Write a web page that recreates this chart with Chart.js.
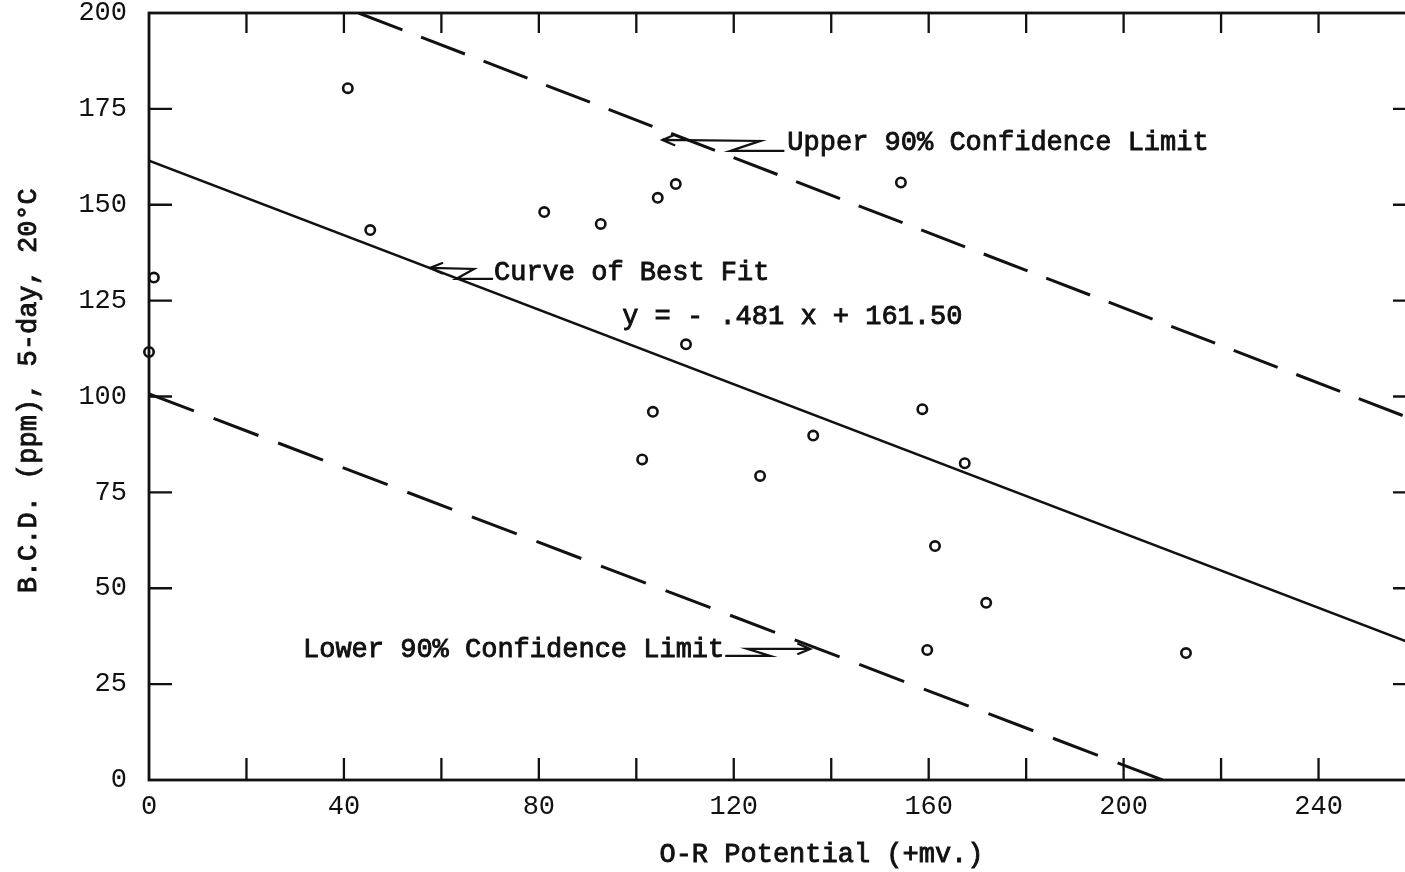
<!DOCTYPE html>
<html>
<head>
<meta charset="utf-8">
<script src="https://cdn.jsdelivr.net/npm/chart.js@4.4.1/dist/chart.umd.min.js"></script>
<style>
  html, body { margin: 0; padding: 0; background: #fff; overflow: hidden; }
  canvas { display: block; }
</style>
</head>
<body>
<canvas id="c" width="1430" height="872"></canvas>
<script>
// ---- data ----
const obsX = [1, 0, 40.8, 45.4, 81.1, 92.7, 104.4, 108.1, 110.2, 103.4, 101.2, 125.4, 136.3, 154.3, 158.7, 167.4, 161.3, 171.8, 159.7, 212.8];
const obsY = [131, 111.6, 180.4, 143.4, 148.1, 145.0, 151.8, 155.4, 113.6, 96.0, 83.6, 79.3, 89.8, 155.8, 96.7, 82.6, 61.0, 46.2, 33.9, 33.1];

const fitX = [0, 260];
const fitY = [161.5, 35.2];
const upperX = [43, 260];
const upperY = [200, 93.7];
const lowerX = [0, 208];
const lowerY = [100.7, 0];

const xTickLabelValues = [0, 40, 80, 120, 160, 200, 240];
const yTickValues = [0, 25, 50, 75, 100, 125, 150, 175, 200];

const xTitle = 'O-R Potential (+mv.)';
const yTitle = 'B.C.D. (ppm), 5-day, 20°C';
const upperLabel = 'Upper 90% Confidence Limit';
const fitLabel = 'Curve of Best Fit';
const eqLabel = 'y = - .481 x + 161.50';
const lowerLabel = 'Lower 90% Confidence Limit';

// ---- build ----
const INK = '#111';
const MONO = '"Liberation Mono", "Courier New", monospace';
const TYPE_FONT = '27px ' + MONO;
const toPts = (xs, ys) => xs.map((v, i) => ({ x: v, y: ys[i] }));

// annotation anchors in data units; arrow offsets in px relative to the anchor
const notes = [
  { text: upperLabel, x: 131.0, y: 164.3, from: 'start',
    arrow: [[-3, 1], [-57, 1], [-27, -9], [-125, -10]] },
  { text: fitLabel, x: 70.8, y: 130.4, from: 'start',
    arrow: [[-1, -1], [-38, -1], [-20, -11], [-64, -12]] },
  { text: eqLabel, x: 97.1, y: 118.9 },
  { text: lowerLabel, x: 31.6, y: 32.1, from: 'end',
    arrow: [[1, -1], [46, -1], [23, -8], [86, -8]] }
];

// typewriter-like medium weight text
function typeText(ctx, s, x, y) {
  ctx.fillText(s, x, y);
  ctx.lineWidth = 0.9;
  ctx.strokeText(s, x, y);
}

const framePlugin = {
  id: 'frame',
  beforeDatasetsDraw(chart) {
    const { ctx, chartArea: a, scales: { x, y } } = chart;
    ctx.save();
    ctx.strokeStyle = INK;
    ctx.lineWidth = 2.8;
    ctx.strokeRect(a.left, a.top, a.right - a.left, a.bottom - a.top);
    ctx.lineWidth = 2.3;
    ctx.beginPath();
    x.ticks.forEach(t => {
      const px = x.getPixelForValue(t.value);
      if (px <= a.left + 1 || px >= a.right - 1) return;
      ctx.moveTo(px, a.bottom); ctx.lineTo(px, a.bottom - 22);
      ctx.moveTo(px, a.top); ctx.lineTo(px, a.top + 20);
    });
    y.ticks.forEach(t => {
      const py = y.getPixelForValue(t.value);
      if (py <= a.top + 1 || py >= a.bottom - 1) return;
      ctx.moveTo(a.left, py); ctx.lineTo(a.left + 23, py);
      ctx.moveTo(a.right, py); ctx.lineTo(a.right - 23, py);
    });
    ctx.stroke();
    ctx.restore();
  },
  afterDatasetsDraw(chart) {
    const { ctx, chartArea: a, scales: { x, y } } = chart;
    ctx.save();
    ctx.fillStyle = INK;
    ctx.strokeStyle = INK;
    ctx.font = TYPE_FONT;
    ctx.textBaseline = 'alphabetic';
    ctx.textAlign = 'left';
    notes.forEach(n => {
      const px = x.getPixelForValue(n.x);
      const py = y.getPixelForValue(n.y);
      typeText(ctx, n.text, px, py);
      if (n.arrow) {
        const ox = n.from === 'end' ? px + ctx.measureText(n.text).width : px;
        const pts = n.arrow.map(p => [ox + p[0], py + p[1]]);
        ctx.lineWidth = 2.2;
        ctx.beginPath();
        pts.forEach((p, i) => i ? ctx.lineTo(p[0], p[1]) : ctx.moveTo(p[0], p[1]));
        const tip = pts[pts.length - 1], prev = pts[pts.length - 2];
        const ang = Math.atan2(tip[1] - prev[1], tip[0] - prev[0]);
        const L = 14;
        ctx.moveTo(tip[0] - L * Math.cos(ang - 0.4), tip[1] - L * Math.sin(ang - 0.4));
        ctx.lineTo(tip[0], tip[1]);
        ctx.lineTo(tip[0] - L * Math.cos(ang + 0.4), tip[1] - L * Math.sin(ang + 0.4));
        ctx.stroke();
      }
    });
    // axis titles
    ctx.textAlign = 'center';
    ctx.textBaseline = 'middle';
    typeText(ctx, xTitle, x.getPixelForValue(138), a.bottom + 75);
    ctx.save();
    ctx.translate(29, y.getPixelForValue(101.5));
    ctx.rotate(-Math.PI / 2);
    typeText(ctx, yTitle, 0, 0);
    ctx.restore();
    ctx.restore();
  }
};

new Chart(document.getElementById('c'), {
  type: 'scatter',
  data: {
    datasets: [
      {
        label: 'Observations',
        data: toPts(obsX, obsY),
        pointStyle: 'circle',
        pointRadius: 4.7,
        pointBorderWidth: 2.6,
        pointBorderColor: INK,
        pointBackgroundColor: 'rgba(255,255,255,0)',
        showLine: false,
        clip: false,
        order: 0
      },
      {
        label: 'Curve of Best Fit',
        data: toPts(fitX, fitY),
        showLine: true,
        borderColor: INK,
        borderWidth: 2.5,
        pointRadius: 0,
        order: 1
      },
      {
        label: 'Upper 90% Confidence Limit',
        data: toPts(upperX, upperY),
        showLine: true,
        borderColor: INK,
        borderWidth: 3,
        borderDash: [47, 20],
        pointRadius: 0,
        order: 2
      },
      {
        label: 'Lower 90% Confidence Limit',
        data: toPts(lowerX, lowerY),
        showLine: true,
        borderColor: INK,
        borderWidth: 3,
        borderDash: [48, 21.1],
        pointRadius: 0,
        order: 3
      }
    ]
  },
  options: {
    responsive: false,
    animation: false,
    events: [],
    layout: { padding: { top: 13, right: 14, left: 0, bottom: 0 } },
    plugins: { legend: { display: false }, tooltip: { enabled: false } },
    scales: {
      x: {
        type: 'linear',
        min: 0, max: 260,
        grid: { display: false, drawTicks: false },
        border: { display: false },
        ticks: {
          stepSize: 20,
          autoSkip: false,
          maxRotation: 0,
          padding: 13,
          color: INK,
          font: { family: MONO, size: 27, lineHeight: 1 },
          callback: v => xTickLabelValues.includes(v) ? String(v) : ''
        },
        afterFit: s => { s.height = 92; s.paddingLeft = 0; s.paddingRight = 0; }
      },
      y: {
        type: 'linear',
        min: 0, max: 200,
        grid: { display: false, drawTicks: false },
        border: { display: false },
        ticks: {
          stepSize: 25,
          padding: 22,
          color: INK,
          font: { family: MONO, size: 27, lineHeight: 1 },
          callback: v => yTickValues.includes(v) ? String(v) : ''
        },
        title: { display: false, text: yTitle },
        afterFit: s => { s.width = 149; s.paddingTop = 0; s.paddingBottom = 0; }
      }
    }
  },
  plugins: [framePlugin]
});
</script>
</body>
</html>
